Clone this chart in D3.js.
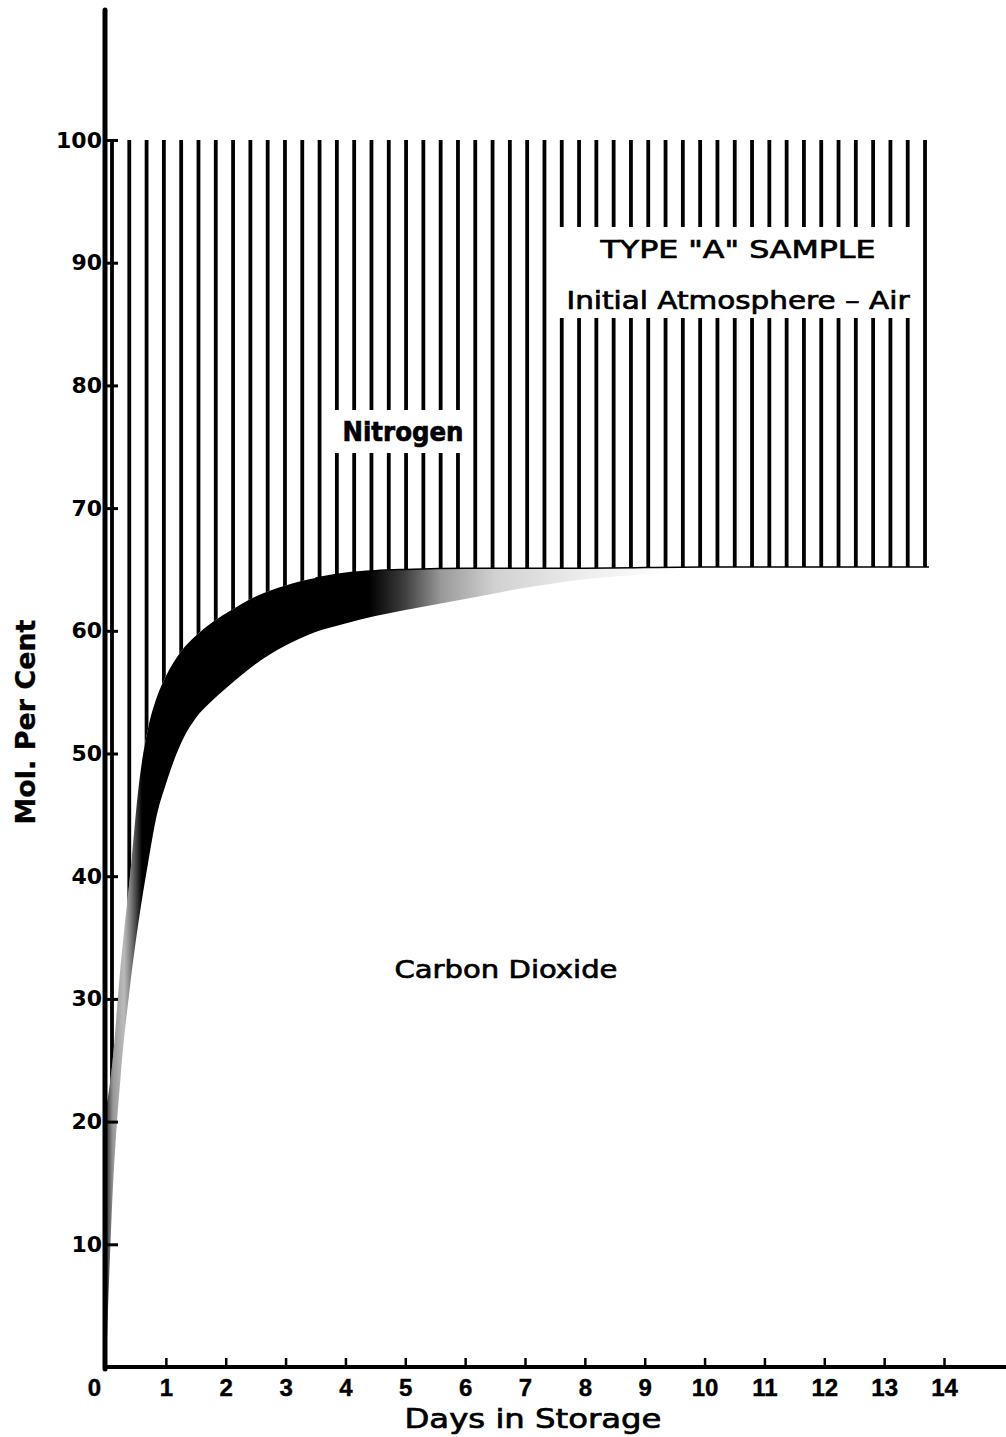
<!DOCTYPE html>
<html>
<head>
<meta charset="utf-8">
<title>Type "A" Sample</title>
<script src="https://d3js.org/d3.v7.min.js"></script>
<style>
    body { margin: 0; background: white; }
    svg { display: block; }
    .tick text { fill: black; }
    .lbl { font-family: "DejaVu Sans", sans-serif; fill: black; stroke: black; stroke-width: 0.7px; }
</style>
</head>
<body>
<div id="chart"></div>
<script>
    // days in storage and the two boundaries (mol. per cent)
    const days   = [0, 0.1, 0.25, 0.4, 0.55, 0.7, 0.85, 1.0, 1.25, 1.5, 1.75, 2, 2.5, 3, 3.5, 4, 4.5, 5, 6, 7, 8, 10, 12, 13.75];
    const co2    = [0, 13, 24, 31, 36.5, 41, 45, 47.5, 50.8, 52.9, 54.2, 55.3, 57.3, 58.8, 59.9, 60.6, 61.2, 61.7, 62.6, 63.5, 64.2, 64.8, 65.0, 65.1];
    const n2Base = [21, 24.5, 33, 40, 47.5, 52, 54.6, 56.3, 58.3, 59.6, 60.6, 61.4, 62.8, 63.7, 64.3, 64.7, 64.9, 65.0, 65.1, 65.1, 65.1, 65.2, 65.2, 65.2];

    const xTickValues = [0, 1, 2, 3, 4, 5, 6, 7, 8, 9, 10, 11, 12, 13, 14];
    const yTickValues = [10, 20, 30, 40, 50, 60, 70, 80, 90, 100];

    const W = 1006, H = 1437;
    const svg = d3.select("#chart").append("svg").attr("width", W).attr("height", H);

    let x = d3.scaleLinear().domain([0, 14]).range([106, 944]);
    let y = d3.scaleLinear().domain([0, 100]).range([1367, 140]);

    let data = days.map(function(d, i) { return {d: d, co2: co2[i], n2: n2Base[i]}; });

    let defs = svg.append("defs");

    // nitrogen zone: between n2Base and 100 -> used to clip the hatching
    let nitroArea = d3.area()
        .x(function(p) { return x(p.d); })
        .y0(function(p) { return y(p.n2); })
        .y1(function() { return y(100); })
        .curve(d3.curveMonotoneX);
    defs.append("clipPath").attr("id", "nclip")
        .append("path").attr("d", nitroArea(data));

    // shaded band: dark by the axis, speckly grey, solid black, then fading out after ~5 days
    let grad = defs.append("linearGradient").attr("id", "bandFade")
        .attr("gradientUnits", "userSpaceOnUse")
        .attr("x1", x(0)).attr("x2", x(14)).attr("y1", 0).attr("y2", 0);
    [[0, "#111", 0.9], [0.12, "#444", 0.55], [0.3, "#555", 0.4], [0.45, "#222", 0.7], [0.6, "#000", 1],
     [4.4, "#000", 1], [5.0, "#000", 0.75], [5.6, "#000", 0.4], [6.5, "#000", 0.18],
     [8, "#000", 0.07], [9.5, "#000", 0]].forEach(function(s) {
        grad.append("stop").attr("offset", s[0] / 14)
            .attr("stop-color", s[1]).attr("stop-opacity", s[2]);
    });

    let band = d3.area()
        .x(function(p) { return x(p.d); })
        .y0(function(p) { return y(p.co2); })
        .y1(function(p) { return y(p.n2); })
        .curve(d3.curveMonotoneX);
    svg.append("path").attr("d", band(data)).attr("fill", "url(#bandFade)");

    // thin edge where the hatching stops on the flat part
    let edge = d3.line()
        .x(function(p) { return x(p.d); })
        .y(function(p) { return y(p.n2); })
        .curve(d3.curveMonotoneX);
    svg.append("path").datum(data.filter(function(p) { return p.d >= 3.5; }))
        .attr("d", edge).attr("fill", "none").attr("stroke", "black").attr("stroke-width", 1.5);

    // vertical hatching for nitrogen
    let hatch = d3.range(48).map(function(i) { return 0.1 + i * 0.289; });
    svg.append("g").attr("clip-path", "url(#nclip)")
        .selectAll("line").data(hatch).enter().append("line")
        .attr("x1", function(d) { return x(d); }).attr("x2", function(d) { return x(d); })
        .attr("y1", y(100)).attr("y2", y(0))
        .attr("stroke", "black").attr("stroke-width", 3.8);

    // white boxes behind the labels in the hatched area
    svg.append("rect").attr("x", 328).attr("y", 410).attr("width", 140).attr("height", 43).attr("fill", "white");
    svg.append("rect").attr("x", 551).attr("y", 227).attr("width", 366).attr("height", 91).attr("fill", "white");

    // axes
    let yAxis = d3.axisLeft(y).tickValues(yTickValues).tickSizeInner(-12).tickSizeOuter(0).tickPadding(4);
    let gy = svg.append("g").attr("transform", "translate(" + x(0) + ",0)").call(yAxis);
    gy.select(".domain").remove();
    gy.selectAll(".tick line").attr("stroke", "black").attr("stroke-width", 3);
    gy.selectAll(".tick text")
        .attr("font-family", "DejaVu Sans").attr("font-weight", "bold").attr("font-size", 22);

    let xAxis = d3.axisBottom(x).tickValues(xTickValues).tickSizeInner(-9).tickSizeOuter(0).tickPadding(12);
    let gx = svg.append("g").attr("transform", "translate(0," + y(0) + ")").call(xAxis);
    gx.select(".domain").remove();
    gx.selectAll(".tick line").attr("stroke", "black").attr("stroke-width", 2.5)
        .filter(function(d) { return d === 0; }).remove();
    gx.selectAll(".tick text")
        .attr("font-family", "Liberation Sans Narrow, Liberation Sans").attr("font-weight", "bold")
        .attr("font-size", 24).attr("stroke", "black").attr("stroke-width", 0.4)
        .filter(function(d) { return d === 0; }).attr("dx", -12);

    svg.append("line").attr("x1", x(0) - 1).attr("x2", x(0) - 1).attr("y1", 10).attr("y2", y(0) + 2)
        .attr("stroke", "black").attr("stroke-width", 5).attr("stroke-linecap", "round");
    svg.append("line").attr("x1", x(0) - 3).attr("x2", W).attr("y1", y(0)).attr("y2", y(0))
        .attr("stroke", "black").attr("stroke-width", 4);

    // text
    svg.append("text").attr("class", "lbl").attr("x", 403).attr("y", 441)
        .attr("text-anchor", "middle").attr("font-size", 27).attr("font-weight", "bold")
        .attr("textLength", 121).attr("lengthAdjust", "spacingAndGlyphs").text("Nitrogen");
    svg.append("text").attr("class", "lbl").attr("x", 738).attr("y", 258)
        .attr("text-anchor", "middle").attr("font-size", 24)
        .attr("textLength", 275).attr("lengthAdjust", "spacingAndGlyphs").text('TYPE "A" SAMPLE');
    svg.append("text").attr("class", "lbl").attr("x", 738).attr("y", 309)
        .attr("text-anchor", "middle").attr("font-size", 24)
        .attr("textLength", 343).attr("lengthAdjust", "spacingAndGlyphs").text("Initial  Atmosphere \u2013 Air");
    svg.append("text").attr("class", "lbl").attr("x", 506).attr("y", 978)
        .attr("text-anchor", "middle").attr("font-size", 25)
        .attr("textLength", 223).attr("lengthAdjust", "spacingAndGlyphs").text("Carbon Dioxide");
    svg.append("text").attr("class", "lbl").attr("x", 533).attr("y", 1428)
        .attr("text-anchor", "middle").attr("font-size", 27)
        .attr("textLength", 257).attr("lengthAdjust", "spacingAndGlyphs").text("Days  in  Storage");
    svg.append("text").attr("class", "lbl").style("stroke-width", "0.3px")
        .attr("transform", "translate(35,722) rotate(-90)")
        .attr("text-anchor", "middle").attr("font-size", 26).attr("font-weight", "bold")
        .attr("textLength", 205).attr("lengthAdjust", "spacingAndGlyphs").text("Mol. Per Cent");
</script>
</body>
</html>
